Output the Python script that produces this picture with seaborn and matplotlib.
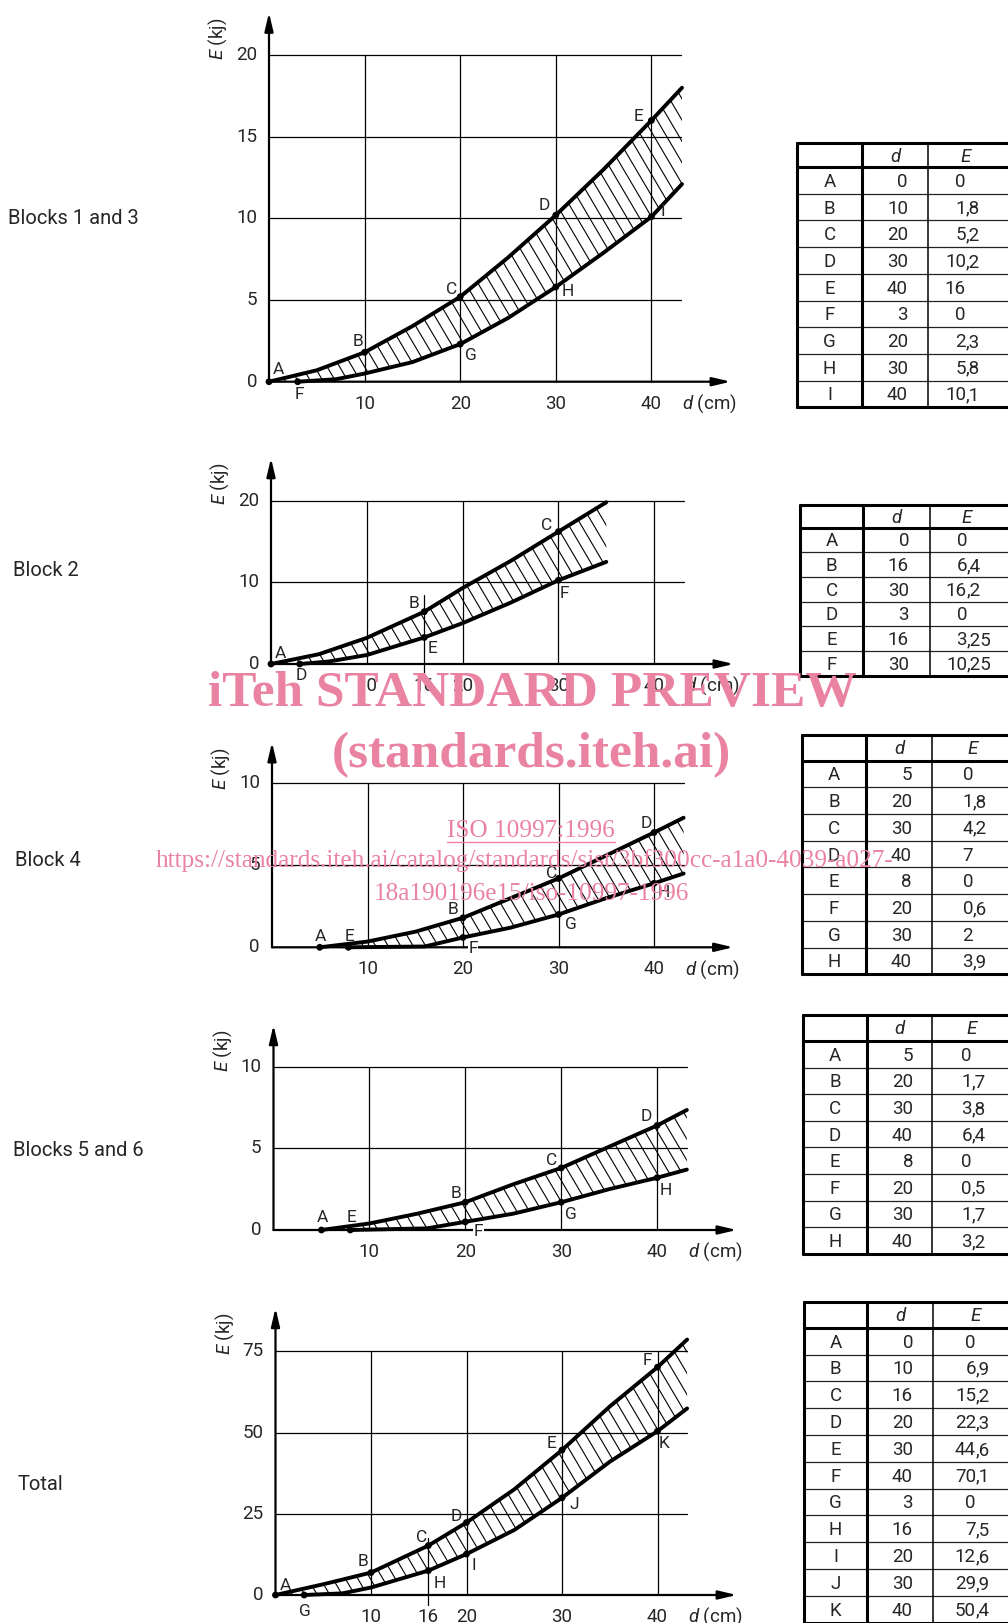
import numpy as np
import matplotlib
matplotlib.use("Agg")
import matplotlib.pyplot as plt
import seaborn as sns
from matplotlib.collections import LineCollection

# ---------------- data ----------------
# Blocks 1 and 3
B13_PTS = ["A", "B", "C", "D", "E", "F", "G", "H", "I"]
B13_D = [0, 10, 20, 30, 40, 3, 20, 30, 40]
B13_E = [0, 1.8, 5.2, 10.2, 16, 0, 2.3, 5.8, 10.1]
B13_UP_D = [0, 5, 10, 15, 20, 25, 30, 35, 40, 43.2]
B13_UP_E = [0, 0.7, 1.8, 3.4, 5.2, 7.6, 10.2, 13.0, 16, 18.0]
B13_LO_D = [3, 7, 10, 15, 20, 25, 30, 35, 40, 43.2]
B13_LO_E = [0, 0.15, 0.5, 1.2, 2.3, 3.9, 5.8, 7.9, 10.1, 12.1]

# Block 2
B2_PTS = ["A", "B", "C", "D", "E", "F"]
B2_D = [0, 16, 30, 3, 16, 30]
B2_E = [0, 6.4, 16.2, 0, 3.25, 10.25]
B2_UP_D = [0, 5, 10, 16, 20, 25, 30, 35]
B2_UP_E = [0, 1.2, 3.2, 6.4, 9.3, 12.6, 16.2, 19.8]
B2_LO_D = [3, 6, 10, 16, 20, 25, 30, 35]
B2_LO_E = [0, 0.3, 1.1, 3.25, 5.0, 7.5, 10.25, 12.5]

# Block 4
B4_PTS = ["A", "B", "C", "D", "E", "F", "G", "H"]
B4_D = [5, 20, 30, 40, 8, 20, 30, 40]
B4_E = [0, 1.8, 4.2, 7, 0, 0.6, 2, 3.9]
B4_UP_D = [5, 10, 15, 20, 25, 30, 35, 40, 43.1]
B4_UP_E = [0, 0.35, 0.95, 1.8, 3.0, 4.2, 5.6, 7, 7.9]
B4_LO_D = [8, 16, 20, 25, 30, 35, 40, 43.1]
B4_LO_E = [0, 0.05, 0.6, 1.2, 2, 3.0, 3.9, 4.5]

# Blocks 5 and 6
B56_PTS = ["A", "B", "C", "D", "E", "F", "G", "H"]
B56_D = [5, 20, 30, 40, 8, 20, 30, 40]
B56_E = [0, 1.7, 3.8, 6.4, 0, 0.5, 1.7, 3.2]
B56_UP_D = [5, 10, 15, 20, 25, 30, 35, 40, 43.1]
B56_UP_E = [0, 0.4, 1.0, 1.7, 2.8, 3.8, 5.1, 6.4, 7.35]
B56_LO_D = [8, 16, 20, 25, 30, 35, 40, 43.1]
B56_LO_E = [0, 0.1, 0.5, 1.0, 1.7, 2.5, 3.2, 3.7]

# Total
TOT_PTS = ["A", "B", "C", "D", "E", "F", "G", "H", "I", "J", "K"]
TOT_D = [0, 10, 16, 20, 30, 40, 3, 16, 20, 30, 40]
TOT_E = [0, 6.9, 15.2, 22.3, 44.6, 70.1, 0, 7.5, 12.6, 29.9, 50.4]
TOT_UP_D = [0, 5, 10, 16, 20, 25, 30, 35, 40, 43.1]
TOT_UP_E = [0, 3.3, 6.9, 15.2, 22.3, 32.5, 44.6, 58.0, 70.1, 78.6]
TOT_LO_D = [3, 7, 10, 16, 20, 25, 30, 35, 40, 43.1]
TOT_LO_E = [0, 0.5, 2.3, 7.5, 12.6, 20.0, 29.9, 41.0, 50.4, 57.4]

PANEL_TITLES = ["Blocks 1 and 3", "Block 2", "Block 4", "Blocks 5 and 6", "Total"]
X_TICKS = [10, 20, 30, 40]
X_TICKS_16 = [10, 16, 20, 30, 40]
Y_TICKS_B13 = [0, 5, 10, 15, 20]
Y_TICKS_B2 = [0, 10, 20]
Y_TICKS_B4 = [0, 5, 10]
Y_TICKS_B56 = [0, 5, 10]
Y_TICKS_TOT = [0, 25, 50, 75]

# ---------------- style ----------------
sns.set_theme(style="white")
plt.rcParams["font.family"] = ["Roboto", "DejaVu Sans"]
plt.rcParams["mathtext.fontset"] = "custom"
plt.rcParams["mathtext.rm"] = "Roboto"
plt.rcParams["mathtext.it"] = "Roboto:italic"

W, H = 1008, 1623
fig = plt.figure(figsize=(W / 100, H / 100), dpi=100)
fig.patch.set_facecolor("white")

ov = fig.add_axes([0, 0, 1, 1], zorder=5)
ov.set_xlim(0, W)
ov.set_ylim(H, 0)
ov.set_axis_off()
ov.patch.set_alpha(0)

INK = "black"
PINK = "#EA82A2"


def fmt_num(v):
    return f"{v:g}".replace(".", ",")


def panel(geom, pts, pd_, pe_, up_d, up_e, lo_d, lo_e, yticks, xticks,
          offsets, boxed=(), mark16=None):
    ox, oy, sx, sy, yarrow = geom
    x0, x1 = -4.0, 50.0
    ylo = -45.0 / sy
    yhi = yarrow + 6.0 / sy
    rect = [(ox + x0 * sx) / W, 1 - (oy - ylo * sy) / H,
            (x1 - x0) * sx / W, (yhi - ylo) * sy / H]
    ax = fig.add_axes(rect)
    ax.set_xlim(x0, x1)
    ax.set_ylim(ylo, yhi)
    ax.set_axis_off()

    gright = 43.1
    gtop = max(yticks)
    for t in yticks[1:]:
        ax.plot([0, gright], [t, t], color=INK, lw=0.9, zorder=1)
    for t in X_TICKS:
        ax.plot([t, t], [0, gtop], color=INK, lw=0.9, zorder=1)
    if mark16 is not None:
        ax.plot([16, 16], list(mark16), color=INK, lw=0.9, zorder=1)

    # axes with arrow heads
    arr = dict(arrowstyle="-|>,head_length=0.55,head_width=0.13",
               mutation_scale=20, lw=1.6, color=INK, shrinkA=0, shrinkB=0)
    ax.annotate("", xy=(48.3, 0), xytext=(0, 0), arrowprops=arr, zorder=2)
    ax.annotate("", xy=(0, yarrow), xytext=(0, 0), arrowprops=arr, zorder=2)

    # hatched band between the two curves
    xs = np.union1d(up_d, lo_d)
    upi = np.interp(xs, up_d, up_e)
    loi = np.interp(xs, lo_d, lo_e, left=0)
    band = ax.fill_between(xs, loi, upi, facecolor="none", edgecolor="none")
    k = 1.7
    span = (yhi - ylo) * sy / (k * sx)
    starts = np.arange(-span - 2, 52, 12.5 / sx)
    segs = [[(s, yhi), (s + span, ylo)] for s in starts]
    lc = LineCollection(segs, colors=INK, linewidths=0.8, zorder=2)
    ax.add_collection(lc)
    lc.set_clip_path(band.get_paths()[0], ax.transData)

    sns.lineplot(x=up_d, y=up_e, ax=ax, color=INK, lw=2.8, estimator=None,
                 sort=False, zorder=3, solid_joinstyle="round")
    sns.lineplot(x=lo_d, y=lo_e, ax=ax, color=INK, lw=2.8, estimator=None,
                 sort=False, zorder=3, solid_joinstyle="round")
    sns.scatterplot(x=pd_, y=pe_, ax=ax, color=INK, s=24, edgecolor="none",
                    zorder=4)
    ax.set_axis_off()

    for name, d, e, (dx, dy) in zip(pts, pd_, pe_, offsets):
        kw = {}
        if name in boxed:
            kw["bbox"] = dict(facecolor="white", edgecolor="none", pad=0.5)
        ax.annotate(name, (d, e), xytext=(dx, -dy), textcoords="offset pixels",
                    ha="center", va="center", fontsize=12.5, zorder=5, **kw)

    for t in xticks:
        ax.annotate(str(t), (t, 0), xytext=(0, -22), textcoords="offset pixels",
                    ha="center", va="center", fontsize=13.5)
    ax.annotate(r"$d$ (cm)", (46.1, 0), xytext=(0, -22),
                textcoords="offset pixels", ha="center", va="center",
                fontsize=13.5)
    for t in yticks:
        ax.annotate(str(t), (0, t), xytext=(-12, 0), textcoords="offset pixels",
                    ha="right", va="center", fontsize=13.5)
    ax.annotate(r"$E$ (kj)", (0, yarrow), xytext=(-51, -26),
                textcoords="offset pixels", ha="center", va="center",
                rotation=90, fontsize=13.5)
    return ax


def table(left, c1, c2, right, top, hh, rh, names, dvals, evals, eoff):
    n = len(names)
    bottom = top + hh + n * rh
    thick, thin = 2.2, 0.9
    for i in range(1, n):
        y = top + hh + i * rh
        ov.plot([left, right], [y, y], color="#222222", lw=thin)
    ov.plot([c2, c2], [top, bottom], color=INK, lw=1.1)
    ov.plot([left, right], [top, top], color=INK, lw=thick)
    ov.plot([left, right], [bottom, bottom], color=INK, lw=thick)
    ov.plot([left, right], [top + hh, top + hh], color=INK, lw=thick)
    ov.plot([left, left], [top, bottom], color=INK, lw=thick)
    ov.plot([c1, c1], [top, bottom], color=INK, lw=thick)
    yb = top + hh / 2 + 6.5
    ov.text((c1 + c2) / 2, yb, "d", style="italic", ha="center",
            va="baseline", fontsize=13.5)
    ov.text(c2 + eoff, yb, "E", style="italic", ha="center", va="baseline",
            fontsize=13.5)
    for i, (nm, d, e) in enumerate(zip(names, dvals, evals)):
        yb = top + hh + (i + 0.5) * rh + 6.5
        ov.text((left + c1) / 2, yb, nm, ha="center", va="baseline",
                fontsize=13.5)
        ov.text(c1 + 46, yb, fmt_num(d), ha="right", va="baseline",
                fontsize=13.5)
        s = fmt_num(e)
        if "," in s:
            ip, fp = s.split(",")
            ov.text(c2 + eoff, yb, ip, ha="right", va="baseline",
                    fontsize=13.5)
            ov.text(c2 + eoff, yb, "," + fp, ha="left", va="baseline",
                    fontsize=13.5)
        else:
            ov.text(c2 + eoff, yb, s, ha="right", va="baseline",
                    fontsize=13.5)


# ---------------- panels ----------------
panel((269, 381.7, 9.56, 16.33, 22.6), B13_PTS, B13_D, B13_E,
      B13_UP_D, B13_UP_E, B13_LO_D, B13_LO_E, Y_TICKS_B13, X_TICKS,
      [(9, -12), (-7, -11), (-9, -7), (-11, -10), (-13, -4),
       (2, 13), (11, 11), (12, 5), (11, -5)])

panel((271, 664, 9.58, 8.17, 25.2), B2_PTS, B2_D, B2_E,
      B2_UP_D, B2_UP_E, B2_LO_D, B2_LO_E, Y_TICKS_B2, X_TICKS_16,
      [(9, -11), (-10, -8), (-12, -6), (2, 11), (8, 11), (6, 13)],
      mark16=(-1.14, 8.5))

panel((272, 947.3, 9.55, 16.4, 12.5), B4_PTS, B4_D, B4_E,
      B4_UP_D, B4_UP_E, B4_LO_D, B4_LO_E, Y_TICKS_B4, X_TICKS,
      [(1, -11), (-10, -8), (-7, -5), (-8, -9), (1, -11),
       (10, 11), (12, 10), (10, 9)], boxed=("F",))

panel((273.5, 1230, 9.59, 16.33, 12.55), B56_PTS, B56_D, B56_E,
      B56_UP_D, B56_UP_E, B56_LO_D, B56_LO_E, Y_TICKS_B56, X_TICKS,
      [(1, -12), (-9, -9), (-10, -7), (-11, -9), (1, -12),
       (13, 10), (10, 12), (9, 13)], boxed=("F",))

panel((275.5, 1595, 9.55, 3.25, 88.3), TOT_PTS, TOT_D, TOT_E,
      TOT_UP_D, TOT_UP_E, TOT_LO_D, TOT_LO_E, Y_TICKS_TOT, X_TICKS_16,
      [(10, -10), (-8, -11), (-7, -8), (-10, -6), (-10, -7), (-10, -7),
       (1, 17), (11, 13), (7, 11), (12, 7), (7, 12)],
      mark16=(-3.1, 17.4))

# ---------------- side titles ----------------
for title, (x, y) in zip(PANEL_TITLES, [(8, 218), (13, 571), (15, 861),
                                        (13, 1151), (18, 1485)]):
    ov.text(x, y, title, ha="left", va="center", fontsize=14.5)

# ---------------- value tables ----------------
table(797, 862, 928, 1010, 143, 24, 26.7, B13_PTS, B13_D, B13_E, 38)
table(800, 863, 930, 1010, 505, 22.5, 24.7, B2_PTS, B2_D, B2_E, 37)
table(802, 866, 932, 1010, 735, 25.6, 26.7, B4_PTS, B4_D, B4_E, 41)
table(803, 867, 932, 1010, 1015, 26, 26.6, B56_PTS, B56_D, B56_E, 40)
table(804, 867, 933, 1010, 1302, 25.8, 26.8, TOT_PTS, TOT_D, TOT_E, 43)

# ---------------- publisher stamp ----------------
serif = ["Liberation Serif", "DejaVu Serif"]
ov.text(532, 694, "iTeh STANDARD PREVIEW", family=serif, weight="bold",
        fontsize=37, color=PINK, ha="center", va="center", zorder=10)
ov.text(531, 755, "(standards.iteh.ai)", family=serif, weight="bold",
        fontsize=37, color=PINK, ha="center", va="center", zorder=10)
ov.text(531, 831, "ISO 10997:1996", family=serif, fontsize=18.2, color=PINK,
        ha="center", va="center", zorder=10)
ov.plot([447, 615], [842, 842], color=PINK, lw=1.0, zorder=10)
ov.text(525, 861,
        "https://standards.iteh.ai/catalog/standards/sist/3bf300cc-a1a0-4039-a027-",
        family=serif, fontsize=18.2, color=PINK, ha="center", va="center",
        zorder=10)
ov.text(531, 894, "18a190196e15/iso-10997-1996", family=serif, fontsize=18.2,
        color=PINK, ha="center", va="center", zorder=10)

fig.savefig("out.png", dpi=100, facecolor="white")
